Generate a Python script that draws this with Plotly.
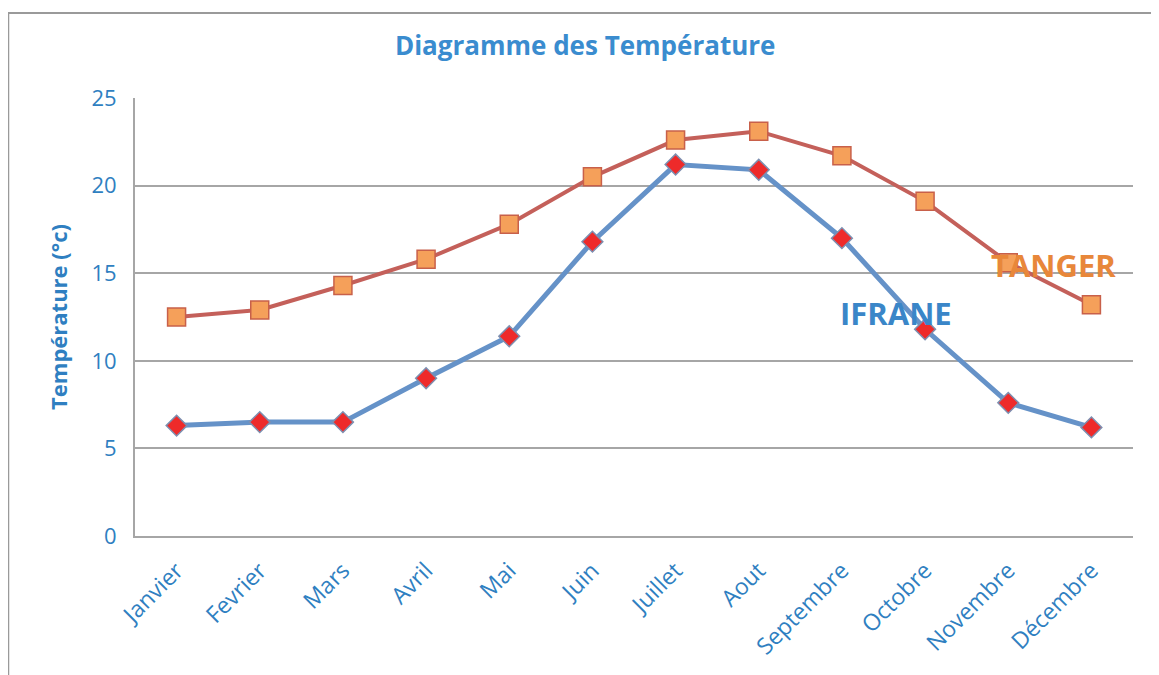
import plotly.graph_objects as go

months = ["Janvier", "Fevrier", "Mars", "Avril", "Mai", "Juin", "Juillet",
          "Aout", "Septembre", "Octobre", "Novembre", "Décembre"]
tanger = [12.5, 12.9, 14.3, 15.8, 17.8, 20.5, 22.6, 23.1, 21.7, 19.1, 15.6, 13.2]
ifrane = [6.3, 6.5, 6.5, 9.0, 11.4, 16.8, 21.2, 20.9, 17.0, 11.8, 7.6, 6.2]
y_ticks = [0, 5, 10, 15, 20, 25]

blue_txt = "#2f7fc1"
font_family = "Open Sans, Lato, sans-serif"

fig = go.Figure()
fig.add_trace(go.Scatter(
    x=months, y=tanger, mode="lines+markers", name="TANGER",
    line=dict(color="#c4605a", width=4),
    marker=dict(symbol="square", size=18, color="#f5a05a",
                line=dict(color="#c8604a", width=1.5)),
))
fig.add_trace(go.Scatter(
    x=months, y=ifrane, mode="lines+markers", name="IFRANE",
    line=dict(color="#6592c8", width=5),
    marker=dict(symbol="diamond", size=16, color="#ee2a2a",
                line=dict(color="#7d8fb0", width=1.5)),
))

fig.update_layout(
    width=1159, height=675,
    paper_bgcolor="white", plot_bgcolor="white",
    margin=dict(l=127, r=34, t=90, b=147),
    showlegend=False,
    font=dict(family=font_family, color=blue_txt),
    title=dict(text="<b>Diagramme des Température</b>", x=0.498, xanchor="center",
               y=0.944, yanchor="middle",
               font=dict(size=26, color="#3a8ccf", family=font_family)),
    xaxis=dict(
        type="category", range=[-0.5, len(months) - 0.5], tickangle=-45,
        showgrid=False, showline=True, linecolor="#a6a6a6", linewidth=2,
        ticks="", ticklabelstandoff=10, tickfont=dict(size=23, color=blue_txt),
    ),
    yaxis=dict(
        range=[0, 25], tickvals=y_ticks, showgrid=True,
        gridcolor="#a6a6a6", gridwidth=2,
        showline=True, linecolor="#a6a6a6", linewidth=2,
        zeroline=False, ticks="", ticklabelstandoff=12,
        tickfont=dict(size=22, color=blue_txt),
        title=dict(text="<b>Température (°c)</b>", standoff=18,
                   font=dict(size=22, color=blue_txt)),
    ),
    annotations=[
        dict(x=months[10], y=15.47, xref="x", yref="y", text="<b>TANGER</b>",
             showarrow=False, xshift=45, font=dict(size=31, color="#e8873a")),
        dict(x=months[8], y=12.73, xref="x", yref="y", text="<b>IFRANE</b>",
             showarrow=False, xshift=54, font=dict(size=31, color="#3a86c8")),
    ],
    shapes=[
        dict(type="rect", xref="paper", yref="paper",
             x0=-0.127, x1=1.06, y0=-0.5, y1=1.194,
             line=dict(color="#9a9a9a", width=2), fillcolor="rgba(0,0,0,0)",
             layer="below"),
    ],
)

fig.write_html("out.html")
